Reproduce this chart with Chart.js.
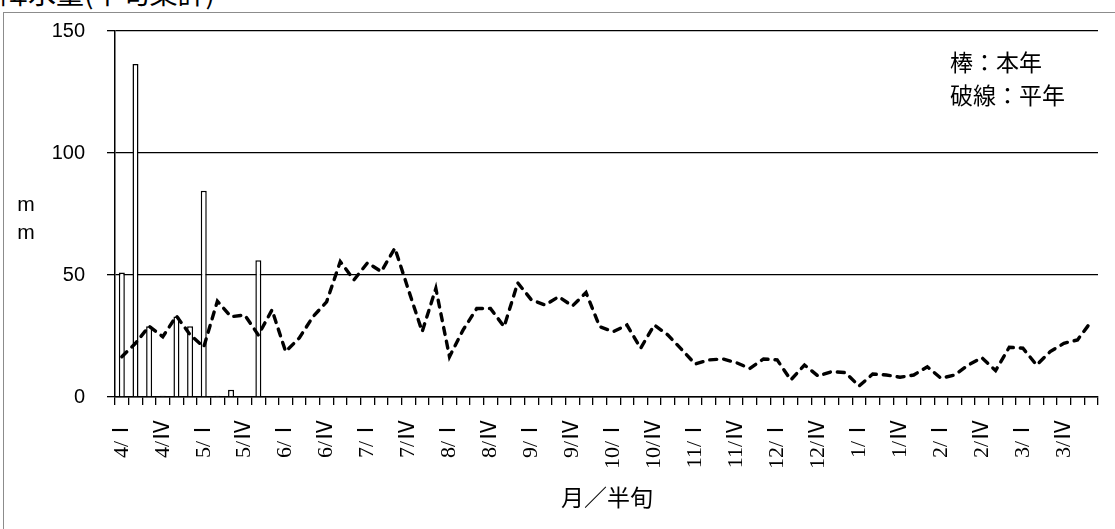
<!DOCTYPE html>
<html>
<head>
<meta charset="utf-8">
<script src="https://cdn.jsdelivr.net/npm/chart.js@4/dist/chart.umd.min.js"></script>
<style>
  body { margin: 0; background: #fff; overflow: hidden; }
  #wrap { position: relative; width: 1115px; height: 529px; overflow: hidden; }
  #frame { position: absolute; left: 3px; top: 12px; width: 1200px; height: 600px; border: 1px solid #8c8c8c; }
  #title { position: absolute; left: 0; top: -26px; font: 28px "Noto Sans CJK JP"; line-height: 36px; color: #000; white-space: nowrap; }
  canvas { position: absolute; left: 0; top: 0; }
</style>
</head>
<body>
<div id="wrap">
  <div id="frame"></div>
  <div id="title">降水量(半旬集計)</div>
  <canvas id="rainChart" width="1115" height="529"></canvas>
</div>
<script>
const months = [4, 5, 6, 7, 8, 9, 10, 11, 12, 1, 2, 3];
const halves = ['Ⅰ', 'Ⅱ', 'Ⅲ', 'Ⅳ', 'Ⅴ', 'Ⅵ'];
const categories = months.flatMap(m => halves.map(h => `${m}/${h}`));

// 本年 (bars) - only the first few half-months have values
const thisYear = [51, 136.5, 29, 0.5, 33, 29, 84.5, 0.5, 3, 0, 56, 0,
    0, 0, 0, 0, 0, 0, 0, 0, 0, 0, 0, 0,
    0, 0, 0, 0, 0, 0, 0, 0, 0, 0, 0, 0,
    0, 0, 0, 0, 0, 0, 0, 0, 0, 0, 0, 0,
    0, 0, 0, 0, 0, 0, 0, 0, 0, 0, 0, 0,
    0, 0, 0, 0, 0, 0, 0, 0, 0, 0, 0, 0];

// 平年 (dashed line)
const normalYear = [16.5, 22, 29, 24.7, 33.2, 25.5, 20.5, 39.3, 32.9, 33.6, 25.4, 35.7,
    18.6, 24.2, 32.9, 39, 55.5, 48, 55, 51.4, 61, 43.8, 26.8, 44.5,
    16.5, 27.5, 36.3, 36.3, 28.8, 46.8, 39.8, 37.7, 41.1, 37.3, 42.8, 28.8,
    26.8, 29.5, 20, 29.5, 25.4, 19.5, 13.5, 15.2, 15.6, 14.1, 11.7, 15.6,
    15.2, 7, 13.1, 8.6, 10.4, 10, 4.5, 9.4, 9, 8.1, 9, 12.4,
    7.7, 9, 13.1, 16.1, 10.8, 20.4, 20, 13.1, 18.6, 22, 23.4, 30.9];

const yTicks = [0, 50, 100, 150];

const textPlugin = {
    id: 'extraText',
    afterDraw(chart) {
        const ctx = chart.ctx;
        ctx.save();
        ctx.fillStyle = '#000';
        ctx.textBaseline = 'middle';
        // y axis unit
        ctx.textAlign = 'center';
        ctx.font = '21px "Liberation Sans"';
        ctx.fillText('m', 26, 205);
        ctx.fillText('m', 26, 233);
        // x axis title
        ctx.font = '23px "Noto Sans CJK JP"';
        ctx.fillText('月／半旬', 607, 497);
        // legend note
        ctx.textAlign = 'left';
        ctx.fillText('棒：本年', 950, 62);
        ctx.fillText('破線：平年', 950, 95);
        ctx.restore();
    }
};

const ctx = document.getElementById('rainChart').getContext('2d');
new Chart(ctx, {
    type: 'bar',
    data: {
        labels: categories,
        datasets: [{
            type: 'line',
            label: '平年',
            data: normalYear,
            borderColor: '#000',
            borderWidth: 3.4,
            borderDash: [7, 7],
            borderCapStyle: 'round',
            pointRadius: 0,
            tension: 0,
            fill: false,
            order: 0
        }, {
            label: '本年',
            data: thisYear,
            backgroundColor: '#fff',
            borderColor: '#000',
            borderWidth: 1.5,
            barPercentage: 0.44,
            categoryPercentage: 1,
            order: 1
        }]
    },
    options: {
        responsive: false,
        animation: false,
        devicePixelRatio: 1,
        layout: { padding: { left: 0, top: 31, right: 17, bottom: 0 } },
        plugins: {
            legend: { display: false },
            tooltip: { enabled: false }
        },
        scales: {
            x: {
                offset: true,
                grid: { drawOnChartArea: false, drawTicks: true, tickLength: 8, color: '#000', lineWidth: 1.3, offset: true },
                border: { display: true, color: '#000', width: 1.5 },
                ticks: {
                    autoSkip: false,
                    maxRotation: 90,
                    minRotation: 90,
                    padding: 14,
                    color: '#000',
                    font: { family: '"Liberation Serif", "Noto Sans CJK JP"', size: 22 },
                    callback: (val, i) => (i % 3 === 0 ? categories[i] : '')
                },
                afterFit: scale => {
                    scale.height = 132;
                    scale.paddingLeft = 0;
                    scale.paddingRight = 0;
                }
            },
            y: {
                min: 0,
                max: 150,
                afterBuildTicks: scale => { scale.ticks = yTicks.map(v => ({ value: v })); },
                grid: { color: '#000', lineWidth: 1.3, tickLength: 8, drawTicks: true },
                border: { display: true, color: '#000', width: 1.5 },
                ticks: {
                    padding: 22,
                    color: '#000',
                    font: { family: '"Liberation Sans"', size: 20 }
                },
                afterFit: scale => {
                    scale.width = 115;
                    scale.paddingTop = 0;
                    scale.paddingBottom = 0;
                }
            }
        }
    },
    plugins: [textPlugin]
});
</script>
</body>
</html>
